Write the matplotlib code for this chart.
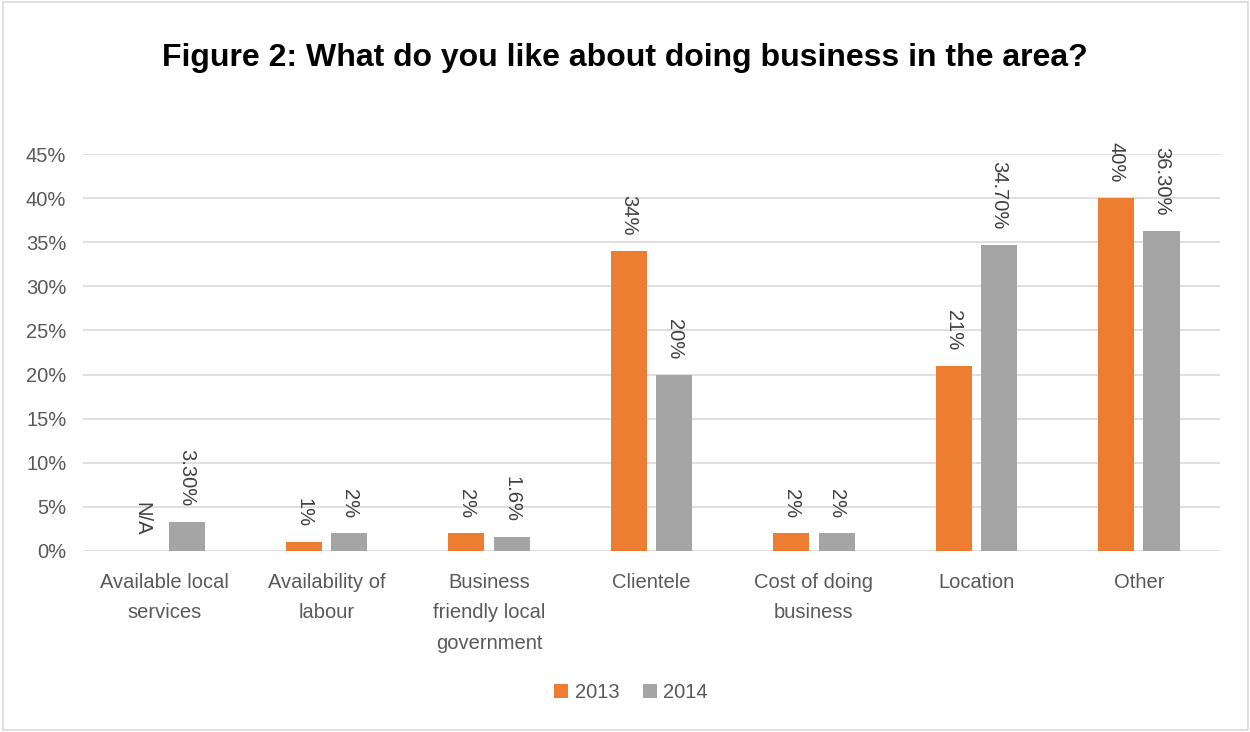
import numpy as np
import matplotlib
matplotlib.use("Agg")
import matplotlib.pyplot as plt
from matplotlib.patches import Rectangle

categories = ["Available local\nservices", "Availability of\nlabour",
              "Business\nfriendly local\ngovernment", "Clientele",
              "Cost of doing\nbusiness", "Location", "Other"]
v2013 = [0, 1, 2, 34, 2, 21, 40]
v2014 = [3.3, 2, 1.6, 20, 2, 34.7, 36.3]
lab2013 = ["N/A", "1%", "2%", "34%", "2%", "21%", "40%"]
lab2014 = ["3.30%", "2%", "1.6%", "20%", "2%", "34.70%", "36.30%"]

plt.rcParams['font.family'] = ['Liberation Sans', 'DejaVu Sans']
txt = "#595959"

fig = plt.figure(figsize=(12.5, 7.32), dpi=100)
ax = fig.add_axes([0.0664, 0.2473, 0.9096, 0.5423])

x = np.arange(len(categories))
w = 0.222
off = 0.14
b1 = ax.bar(x - off, [v / 100 for v in v2013], w, color="#ED7D31", label="2013", zorder=3)
b2 = ax.bar(x + off, [v / 100 for v in v2014], w, color="#A5A5A5", label="2014", zorder=3)

for bars, labs in ((b1, lab2013), (b2, lab2014)):
    for r, s in zip(bars, labs):
        ax.annotate(s, (r.get_x() + r.get_width() / 2, r.get_height()),
                    xytext=(0, 11), textcoords="offset points",
                    ha="center", va="bottom", rotation=-90,
                    fontsize=14.5, color="#404040")

ax.set_xlim(-0.5, len(categories) - 0.5)
ax.set_ylim(0, 0.45)
ax.set_yticks(np.arange(0, 0.46, 0.05))
ax.set_yticklabels([f"{int(round(t * 100))}%" for t in np.arange(0, 0.46, 0.05)])
ax.set_xticks(x)
ax.set_xticklabels(categories, linespacing=1.75)
ax.tick_params(axis="both", length=0, labelsize=14.5, colors=txt)
ax.tick_params(axis="y", pad=12)
ax.tick_params(axis="x", pad=16)
ax.grid(axis="y", color="#D9D9D9", linewidth=1.2, zorder=0)
for sp in ax.spines.values():
    sp.set_visible(False)

fig.text(0.5, 0.921, "Figure 2: What do you like about doing business in the area?",
         ha="center", va="center", fontsize=23, fontweight="bold", color="black")

leg = fig.legend(loc="center", bbox_to_anchor=(0.505, 0.054), ncol=2, frameon=False,
                 fontsize=14.5, handlelength=0.7, handleheight=0.7, handletextpad=0.3,
                 columnspacing=1.2)
for t in leg.get_texts():
    t.set_color(txt)

fig.patches.append(Rectangle((0.002, 0.003), 0.996, 0.994, transform=fig.transFigure,
                             fill=False, edgecolor="#D9D9D9", linewidth=1.2))

fig.savefig("out.png", dpi=100)
